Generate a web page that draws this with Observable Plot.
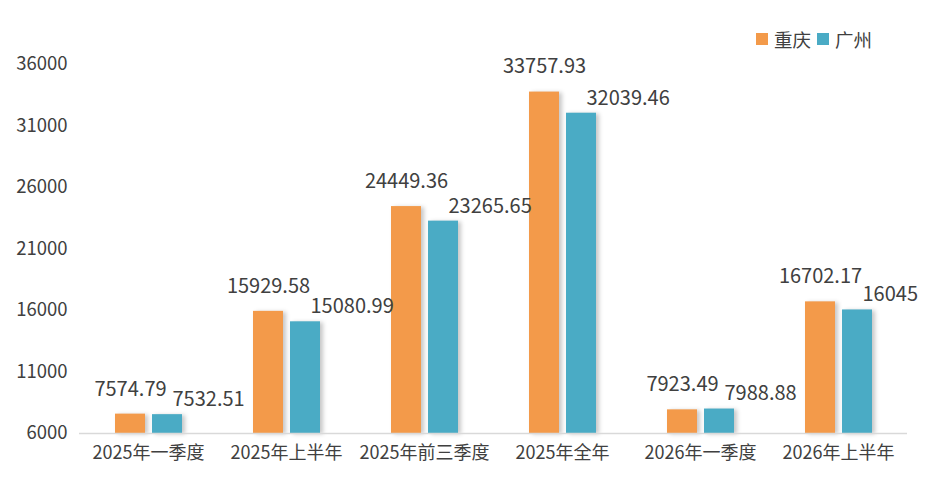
<!DOCTYPE html>
<html>
<head>
<meta charset="utf-8">
<script src="https://cdn.jsdelivr.net/npm/d3@7"></script>
<script src="https://cdn.jsdelivr.net/npm/@observablehq/plot@0.6"></script>
<style>
  html, body { margin: 0; padding: 0; background: #fff; }
  #wrap { position: relative; width: 929px; height: 483px; font-family: "Noto Sans CJK SC", "Noto Sans", sans-serif; }
  #legend { position: absolute; top: 26px; left: 756px; display: flex; align-items: center; font-size: 18.5px; color: #404040; }
  #legend .sw { width: 12px; height: 12px; display: inline-block; margin-right: 6px; }
  #legend .item { display: flex; align-items: center; margin-right: 6px; }
</style>
</head>
<body>
<div id="wrap">
  <div id="legend"></div>
</div>
<script>
const categories = ["2025年一季度", "2025年上半年", "2025年前三季度", "2025年全年", "2026年一季度", "2026年上半年"];
const series = ["重庆", "广州"];
const colors = ["#F39A4A", "#4AABC5"];
const chongqing = [7574.79, 15929.58, 24449.36, 33757.93, 7923.49, 16702.17];
const guangzhou = [7532.51, 15080.99, 23265.65, 32039.46, 7988.88, 16045];
const yTicks = [6000, 11000, 16000, 21000, 26000, 31000, 36000];

const values = [chongqing, guangzhou];
const data = [];
series.forEach((s, si) => {
  categories.forEach((c, ci) => {
    data.push({category: c, series: s, value: values[si][ci]});
  });
});

const fmt = v => String(v);

const chart = Plot.plot({
  width: 929,
  height: 483,
  marginLeft: 78,
  marginRight: 22,
  marginTop: 64,
  marginBottom: 50,
  style: {fontFamily: '"Noto Sans CJK SC", "Noto Sans", sans-serif', color: "#404040", background: "#fff"},
  fx: {domain: categories, padding: 0, label: null},
  x: {domain: series, paddingInner: 0.19, paddingOuter: 0.95, axis: null},
  y: {domain: [6000, 36000], label: null},
  color: {domain: series, range: colors},
  marks: [
    Plot.axisY({ticks: yTicks, tickSize: 0, tickPadding: 12, fontSize: 18.5, tickFormat: d => String(d), fill: "#404040"}),
    Plot.axisFx({anchor: "bottom", tickSize: 0, tickPadding: 13, fontSize: 18, fill: "#404040"}),
    Plot.barY(data, {fx: "category", x: "series", y1: 6000, y2: "value", fill: "series"}),
    Plot.ruleY([6000], {stroke: "#d9d9d9", strokeWidth: 1.5}),
    Plot.text(data.filter(d => d.series === series[0]), {fx: "category", x: "series", y: "value", text: d => fmt(d.value), dy: -25, fontSize: 20, fill: "#404040", textAnchor: "middle"}),
    Plot.text(data.filter(d => d.series === series[1]), {fx: "category", x: "series", y: "value", text: d => fmt(d.value), dx: 5, dy: -15, fontSize: 20, fill: "#404040", textAnchor: "start"})
  ]
});

d3.select(chart).selectAll("g[aria-label='bar'] rect")
  .style("filter", "drop-shadow(3px 1px 2px rgba(0,0,0,0.22))");

document.getElementById("wrap").appendChild(chart);

const legend = d3.select("#legend");
series.forEach((s, i) => {
  const item = legend.append("div").attr("class", "item");
  item.append("span").attr("class", "sw").style("background", colors[i]);
  item.append("span").text(s);
});
</script>
</body>
</html>
